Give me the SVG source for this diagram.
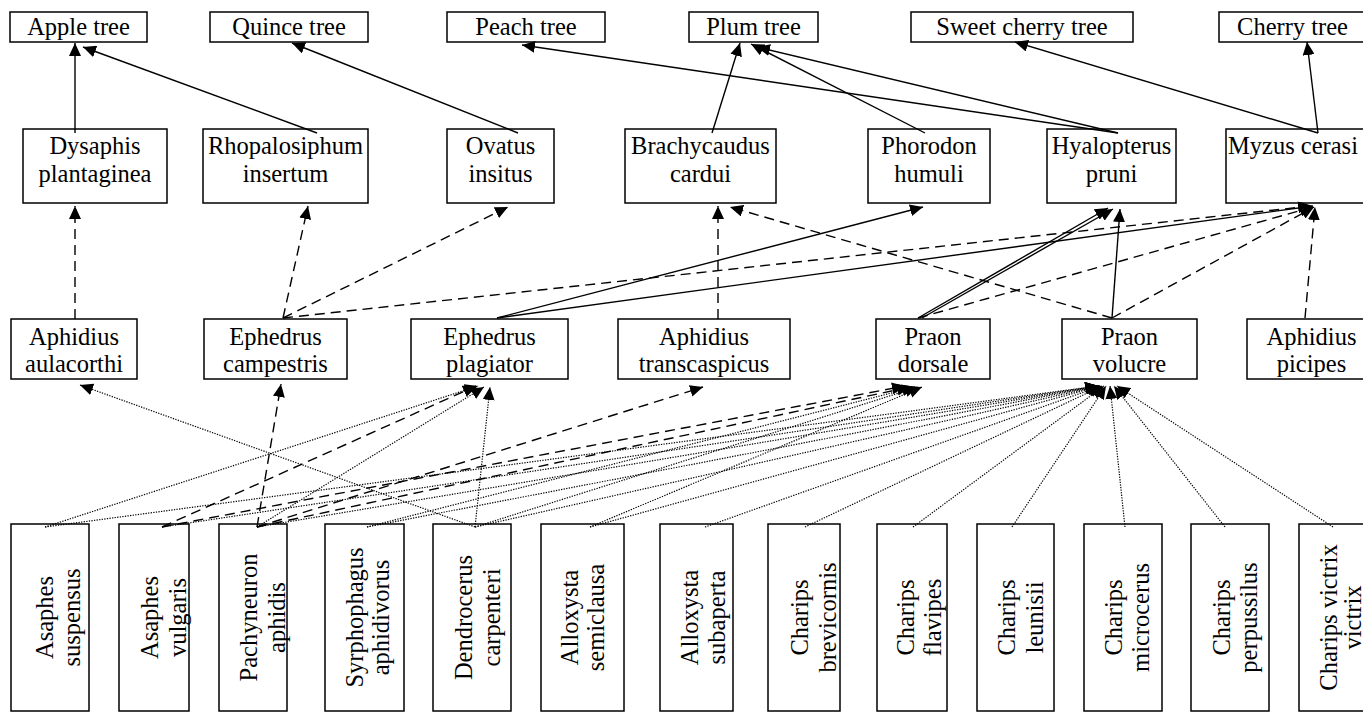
<svg xmlns="http://www.w3.org/2000/svg" width="1363" height="712" viewBox="0 0 1363 712">
<defs>
<marker id="ah" viewBox="0 0 13 12" refX="13" refY="6" markerWidth="13" markerHeight="12" markerUnits="userSpaceOnUse" orient="auto"><path d="M0,0 L13,6 L0,12 z" fill="#000"/></marker>
</defs>
<style>
.box{fill:#fff;stroke:#000;stroke-width:1.5}
text{font-family:"Liberation Serif","Times New Roman",serif;font-size:24.5px;fill:#000;text-anchor:middle}
.s{stroke:#000;stroke-width:1.4;fill:none;marker-end:url(#ah)}
.d{stroke:#000;stroke-width:1.4;fill:none;stroke-dasharray:10 6;marker-end:url(#ah)}
.o{stroke:#000;stroke-width:1.2;fill:none;stroke-dasharray:1.3 1.3;marker-end:url(#ah)}
</style>
<rect width="1363" height="712" fill="#fff"/>
<!-- Row 1 -->
<g id="apple"><rect class="box" x="10" y="12" width="137" height="30"/><text x="78.5" y="35">Apple tree</text></g>
<g id="quince"><rect class="box" x="210" y="12" width="158" height="30"/><text x="289" y="35">Quince tree</text></g>
<g id="peach"><rect class="box" x="447" y="12" width="158" height="30"/><text x="526" y="35">Peach tree</text></g>
<g id="plum"><rect class="box" x="689" y="12" width="129" height="30"/><text x="753.5" y="35">Plum tree</text></g>
<g id="sweetcherry"><rect class="box" x="911" y="12" width="222" height="30"/><text x="1022" y="35">Sweet cherry tree</text></g>
<g id="cherry"><rect class="box" x="1219" y="12" width="147" height="30"/><text x="1292.5" y="35">Cherry tree</text></g>
<!-- Row 2 -->
<g id="dysaphis"><rect class="box" x="23" y="129" width="144" height="74"/><text x="95" y="154">Dysaphis</text><text x="95" y="182">plantaginea</text></g>
<g id="rhopalosiphum"><rect class="box" x="203" y="129" width="165" height="74"/><text x="285.5" y="154">Rhopalosiphum</text><text x="285.5" y="182">insertum</text></g>
<g id="ovatus"><rect class="box" x="447" y="129" width="107" height="74"/><text x="500.5" y="154">Ovatus</text><text x="500.5" y="182">insitus</text></g>
<g id="brachycaudus"><rect class="box" x="625" y="129" width="151" height="74"/><text x="700.5" y="154">Brachycaudus</text><text x="700.5" y="182">cardui</text></g>
<g id="phorodon"><rect class="box" x="868" y="129" width="122" height="74"/><text x="929" y="154">Phorodon</text><text x="929" y="182">humuli</text></g>
<g id="hyalopterus"><rect class="box" x="1047" y="129" width="129" height="74"/><text x="1111.5" y="154">Hyalopterus</text><text x="1111.5" y="182">pruni</text></g>
<g id="myzus"><rect class="box" x="1226" y="129" width="140" height="74"/><text x="1293" y="154">Myzus cerasi</text></g>
<!-- Row 3 -->
<g id="aulacorthi"><rect class="box" x="11" y="319" width="126" height="60"/><text x="74" y="344.5">Aphidius</text><text x="74" y="372">aulacorthi</text></g>
<g id="campestris"><rect class="box" x="204" y="319" width="143" height="60"/><text x="275.5" y="344.5">Ephedrus</text><text x="275.5" y="372">campestris</text></g>
<g id="plagiator"><rect class="box" x="411" y="319" width="157" height="60"/><text x="489.5" y="344.5">Ephedrus</text><text x="489.5" y="372">plagiator</text></g>
<g id="transcaspicus"><rect class="box" x="618" y="319" width="172" height="60"/><text x="704" y="344.5">Aphidius</text><text x="704" y="372">transcaspicus</text></g>
<g id="dorsale"><rect class="box" x="876" y="319" width="114" height="60"/><text x="933" y="344.5">Praon</text><text x="933" y="372">dorsale</text></g>
<g id="volucre"><rect class="box" x="1062" y="319" width="135" height="60"/><text x="1129.5" y="344.5">Praon</text><text x="1129.5" y="372">volucre</text></g>
<g id="picipes"><rect class="box" x="1247" y="319" width="129" height="60"/><text x="1311.5" y="344.5">Aphidius</text><text x="1311.5" y="372">picipes</text></g>
<!-- Row 4 -->
<g id="suspensus"><rect class="box" x="11" y="524" width="78" height="187"/><text transform="translate(53,617.5) rotate(-90)">Asaphes</text><text transform="translate(80,617.5) rotate(-90)">suspensus</text></g>
<g id="vulgaris"><rect class="box" x="119" y="524" width="70" height="187"/><text transform="translate(158,617.5) rotate(-90)">Asaphes</text><text transform="translate(186,617.5) rotate(-90)">vulgaris</text></g>
<g id="pachyneuron"><rect class="box" x="219" y="524" width="68" height="187"/><text transform="translate(257,617.5) rotate(-90)">Pachyneuron</text><text transform="translate(285,617.5) rotate(-90)">aphidis</text></g>
<g id="syrphophagus"><rect class="box" x="325" y="524" width="79" height="187"/><text transform="translate(363,617.5) rotate(-90)">Syrphophagus</text><text transform="translate(389,617.5) rotate(-90)">aphidivorus</text></g>
<g id="dendrocerus"><rect class="box" x="433" y="524" width="78" height="187"/><text transform="translate(472,617.5) rotate(-90)">Dendrocerus</text><text transform="translate(500,617.5) rotate(-90)">carpenteri</text></g>
<g id="semiclausa"><rect class="box" x="541" y="524" width="83" height="187"/><text transform="translate(578,617.5) rotate(-90)">Alloxysta</text><text transform="translate(604,617.5) rotate(-90)">semiclausa</text></g>
<g id="subaperta"><rect class="box" x="660" y="524" width="73" height="187"/><text transform="translate(698,617.5) rotate(-90)">Alloxysta</text><text transform="translate(725,617.5) rotate(-90)">subaperta</text></g>
<g id="brevicornis"><rect class="box" x="768" y="524" width="72" height="187"/><text transform="translate(808,617.5) rotate(-90)">Charips</text><text transform="translate(836,617.5) rotate(-90)">brevicornis</text></g>
<g id="flavipes"><rect class="box" x="877" y="524" width="70" height="187"/><text transform="translate(914,617.5) rotate(-90)">Charips</text><text transform="translate(941,617.5) rotate(-90)">flavipes</text></g>
<g id="leunisii"><rect class="box" x="977" y="524" width="77" height="187"/><text transform="translate(1015,617.5) rotate(-90)">Charips</text><text transform="translate(1043,617.5) rotate(-90)">leunisii</text></g>
<g id="microcerus"><rect class="box" x="1084" y="524" width="78" height="187"/><text transform="translate(1122,617.5) rotate(-90)">Charips</text><text transform="translate(1149,617.5) rotate(-90)">microcerus</text></g>
<g id="perpussilus"><rect class="box" x="1191" y="524" width="78" height="187"/><text transform="translate(1230,617.5) rotate(-90)">Charips</text><text transform="translate(1257,617.5) rotate(-90)">perpussilus</text></g>
<g id="victrix"><rect class="box" x="1299" y="524" width="78" height="187"/><text transform="translate(1337,617.5) rotate(-90)">Charips victrix</text><text transform="translate(1361,617.5) rotate(-90)">victrix</text></g>
<g id="connectors">
<!-- aphid -> tree (solid) -->
<line class="s" x1="75" y1="133" x2="75" y2="43"/>
<line class="s" x1="317" y1="133" x2="83" y2="47"/>
<line class="s" x1="518" y1="133" x2="292" y2="43"/>
<line class="s" x1="712" y1="133" x2="740" y2="43"/>
<line class="s" x1="925" y1="133" x2="751" y2="44"/>
<line class="s" x1="1118" y1="133" x2="757" y2="47"/>
<line class="s" x1="1118" y1="133" x2="522" y2="45"/>
<line class="s" x1="1318" y1="133" x2="1015" y2="42"/>
<line class="s" x1="1318" y1="133" x2="1307" y2="42"/>
<!-- parasitoid -> aphid -->
<line class="d" x1="75" y1="319" x2="75" y2="206"/>
<line class="d" x1="283" y1="318" x2="308" y2="206"/>
<line class="d" x1="283" y1="318" x2="508" y2="207"/>
<line class="d" x1="283" y1="318" x2="1311" y2="206"/>
<line class="s" x1="497" y1="318" x2="923" y2="207"/>
<line class="s" x1="497" y1="318" x2="1313" y2="206"/>
<line class="d" x1="718" y1="319" x2="718" y2="206"/>
<line class="d" x1="1112" y1="318" x2="730" y2="207"/>
<line class="s" x1="918" y1="318" x2="1108" y2="208"/>
<line class="s" x1="922" y1="318" x2="1113" y2="209"/>
<line class="d" x1="918" y1="318" x2="1313" y2="207"/>
<line class="s" x1="1112" y1="318" x2="1120" y2="209"/>
<line class="d" x1="1112" y1="318" x2="1314" y2="207"/>
<line class="d" x1="1305" y1="318" x2="1315" y2="207"/>
<!-- hyperparasitoid -> parasitoid -->
<line class="o" x1="475" y1="527" x2="80" y2="385"/>
<line class="d" x1="257" y1="527" x2="281" y2="384"/>
<line class="o" x1="45" y1="527" x2="478" y2="386"/>
<line class="d" x1="162" y1="527" x2="476" y2="386"/>
<line class="o" x1="257" y1="527" x2="484" y2="387"/>
<line class="o" x1="475" y1="527" x2="490" y2="387"/>
<line class="d" x1="257" y1="527" x2="703" y2="387"/>
<line class="d" x1="162" y1="527" x2="905" y2="386"/>
<line class="d" x1="257" y1="527" x2="910" y2="387"/>
<line class="o" x1="367" y1="527" x2="915" y2="387"/>
<line class="o" x1="475" y1="527" x2="918" y2="387"/>
<line class="o" x1="590" y1="527" x2="922" y2="387"/>
<line class="o" x1="45" y1="527" x2="1098" y2="386"/>
<line class="o" x1="162" y1="527" x2="1098" y2="386"/>
<line class="o" x1="257" y1="527" x2="1099" y2="386"/>
<line class="o" x1="367" y1="527" x2="1099" y2="386"/>
<line class="o" x1="475" y1="527" x2="1100" y2="386"/>
<line class="o" x1="590" y1="527" x2="1100" y2="386"/>
<line class="o" x1="705" y1="527" x2="1101" y2="386"/>
<line class="o" x1="805" y1="527" x2="1102" y2="386"/>
<line class="o" x1="913" y1="527" x2="1104" y2="386"/>
<line class="o" x1="1012" y1="527" x2="1106" y2="386"/>
<line class="o" x1="1125" y1="527" x2="1110" y2="386"/>
<line class="o" x1="1225" y1="527" x2="1114" y2="386"/>
<line class="o" x1="1333" y1="527" x2="1117" y2="386"/>
</g>
</svg>
